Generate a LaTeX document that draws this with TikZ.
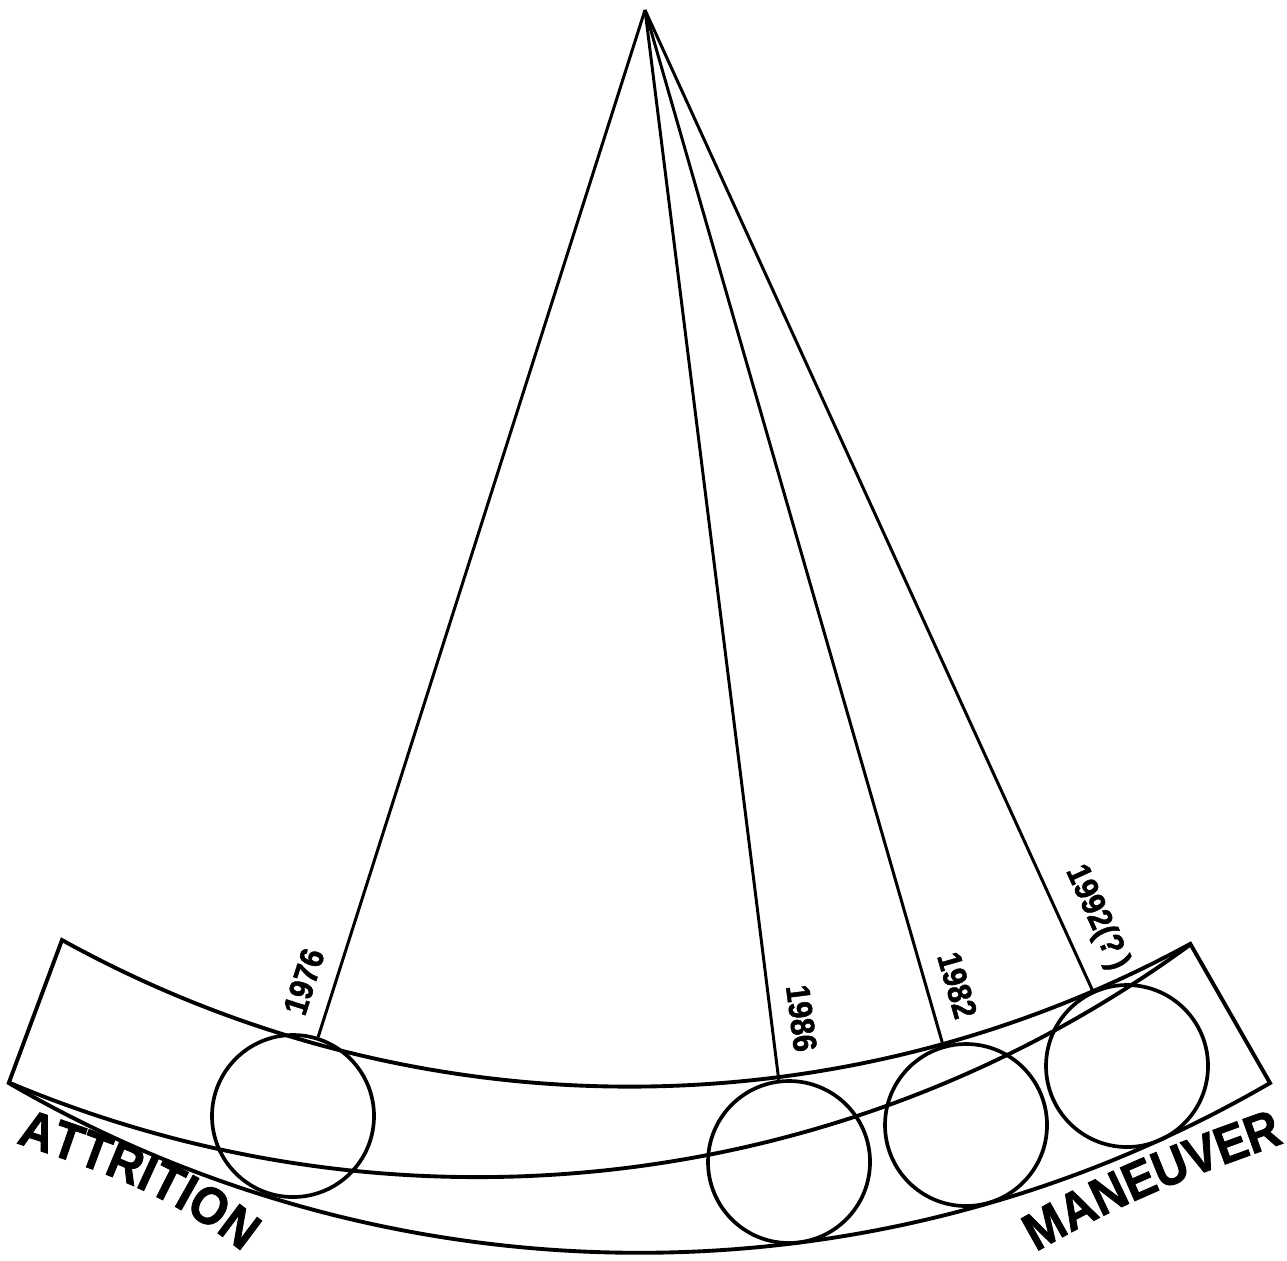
\documentclass[tikz,border=0pt]{standalone}
\usepackage{fontspec}
\setmainfont{Liberation Sans}
\newfontfamily\heavyfont[FakeBold=1.5,FakeStretch=0.9]{Liberation Sans Bold}
\usetikzlibrary{calc,decorations.text}
\tikzset{band/.style={draw=black,line width=1.1pt},
         rod/.style={draw=black,line width=0.85pt},
         bob/.style={circle,draw=black,line width=1.05pt,minimum size=1.62cm,inner sep=0pt},
         year/.style={font=\heavyfont\fontsize{9.5}{10}\selectfont,sloped,above=1.5pt},
         swing/.style={decorate,decoration={text along path,text align=left,
           text={|\heavyfont\fontsize{15}{17}\selectfont|#1}}}}

\begin{document}
\begin{tikzpicture}[x=0.1mm,y=0.1mm]
  \useasboundingbox (0,0) rectangle (1287,-1260);
  \coordinate (apex) at (645,-10);
  \coordinate (tl) at (62,-940);
  \coordinate (tr) at (1191,-944);
  \coordinate (bl) at (10,-1083);
  \coordinate (br) at (1270,-1083);
  \draw[band] (tl) arc[start angle=241.03,end angle=298.58,radius=1172]
    -- (br) arc[start angle=300.14,end angle=239.86,radius=1256] -- cycle;
  \draw[band] (bl) arc[start angle=247.24,end angle=306.19,radius=1208.6];
  \node[bob] (c1976) at (293,-1116) {};
  \node[bob] (c1986) at (789,-1162) {};
  \node[bob] (c1982) at (966,-1125) {};
  \node[bob] (c1992) at (1127,-1066) {};
  \draw[rod] (apex) -- (c1976) node[year,pos=0.955] {1976};
  \draw[rod] (apex) -- (c1986) node[year,pos=0.946] {1986};
  \draw[rod] (apex) -- (c1982) node[year,pos=0.95] {1982};
  \draw[rod] (apex) -- (c1992) node[year,pos=0.94] {1992(?\,)};
  \path[swing=ATTRITION] (16,-1143) to[out=-18,in=135] (290,-1295);
  \path[swing=MANEUVER] (1036,-1252) to[out=30,in=200] (1320,-1130);
\end{tikzpicture}
\end{document}
